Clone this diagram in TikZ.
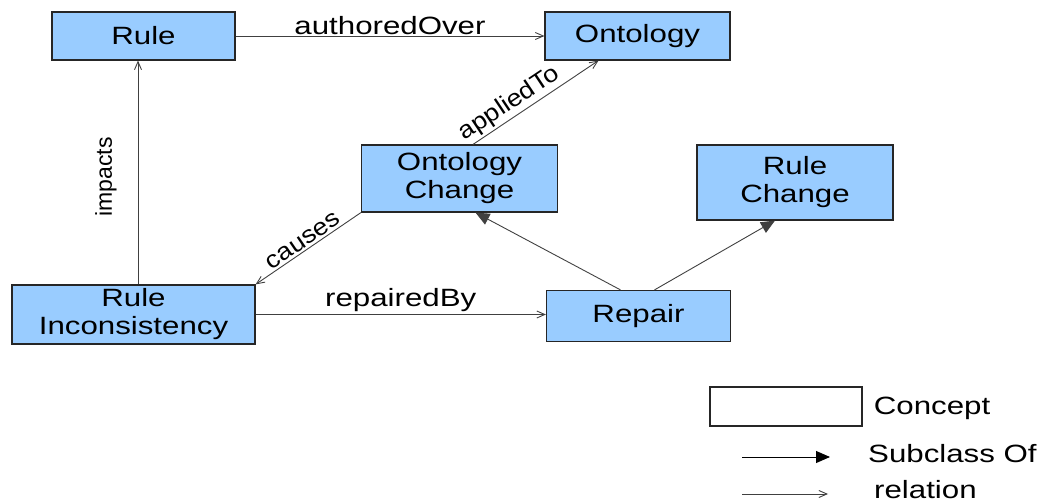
\documentclass[tikz,border=0pt]{standalone}
\usepackage{fontspec}
\setmainfont{Liberation Sans}[FakeStretch=1.25]
\newfontfamily\tiltfont{Liberation Sans}[FakeStretch=1.12]
\newfontfamily\upfont{Liberation Sans}
\usetikzlibrary{arrows.meta}
\definecolor{conceptblue}{HTML}{99CCFF}
\definecolor{linegray}{HTML}{404040}

\begin{document}
\begin{tikzpicture}[x=1pt, y=-1pt,
    font=\fontsize{25}{28}\selectfont,
    concept/.style={draw=black!85, line width=1.2pt, fill=conceptblue, align=center, inner sep=0pt},
    rel/.style={draw=linegray, line width=0.9pt, -{Straight Barb[length=8pt,width=7pt]}},
    sub/.style={draw=linegray, line width=0.9pt, -{Triangle[length=14pt,width=12pt]}},
    lbl/.style={inner sep=2pt, text=black},
    tilt/.style={font=\tiltfont\fontsize{24}{28}\selectfont},
    upright/.style={font=\upfont\fontsize{23}{27}\selectfont}]
        \useasboundingbox (0,0) rectangle (1046,502);

        \node [concept, minimum width=183pt, minimum height=48pt] (rule) at (143.5,36) {Rule};
        \node [concept, minimum width=185pt, minimum height=48pt, node distance=494pt, right of=rule] (ont) {Ontology};
        \node [concept, minimum width=196pt, minimum height=67pt, node distance=316pt, right of=rule, yshift=-142.5pt] (oc) {Ontology\\Change};
        \node [concept, minimum width=196pt, minimum height=75pt, node distance=335.5pt, right of=oc, yshift=-4pt] (rc) {Rule\\Change};
        \node [concept, minimum width=243pt, minimum height=59pt, node distance=278.5pt, below of=rule, xshift=-10pt] (ri) {Rule\\Inconsistency};
        \node [concept, minimum width=184pt, minimum height=51pt, node distance=280pt, below of=ont, xshift=1pt] (rep) {Repair};

        \draw[rel] (rule) -- node [lbl, above, inner sep=1pt] {authoredOver} (ont);
        \draw[rel] ([xshift=4.5pt]ri.north) -- node [lbl, upright, pos=0.48, above=19pt, sloped] {impacts} ([xshift=-5.5pt]rule.south);
        \draw[rel] ([xshift=13.5pt]oc.north) -- node [lbl, tilt, pos=0.35, above, sloped] {appliedTo} ([xshift=-39pt]ont.south);
        \draw[rel] (oc.south west) -- node [lbl, tilt, pos=0.5, above, sloped] {causes} (ri.north east);
        \draw[rel] (ri.east) -- node [lbl, above, inner sep=2pt] {repairedBy} (ri.east -| rep.west);
        \draw[sub] ([xshift=-18pt]rep.north) -- ([xshift=16pt]oc.south);
        \draw[sub] ([xshift=16pt]rep.north) -- ([xshift=-20pt]rc.south);

        % legend
        \node [draw=black!85, line width=1.2pt, minimum width=152pt, minimum height=39pt] (key) at (786,406.5) {};
        \node [lbl, anchor=base west] (keytext) at ([xshift=9pt, yshift=-7.5pt]key.east) {Concept};
        \coordinate (sub0) at (742,457);
        \coordinate (sub1) at (830,457);
        \draw[sub, draw=black] (sub0) -- (sub1);
        \node [lbl, anchor=base west] (subtext) at (866,462) {Subclass Of};
        \coordinate (rel0) at (742,494);
        \coordinate (rel1) at (828,494);
        \draw[rel] (rel0) -- (rel1);
        \node [lbl, anchor=base west] (reltext) at (872,498) {relation};
      \end{tikzpicture}
\end{document}
